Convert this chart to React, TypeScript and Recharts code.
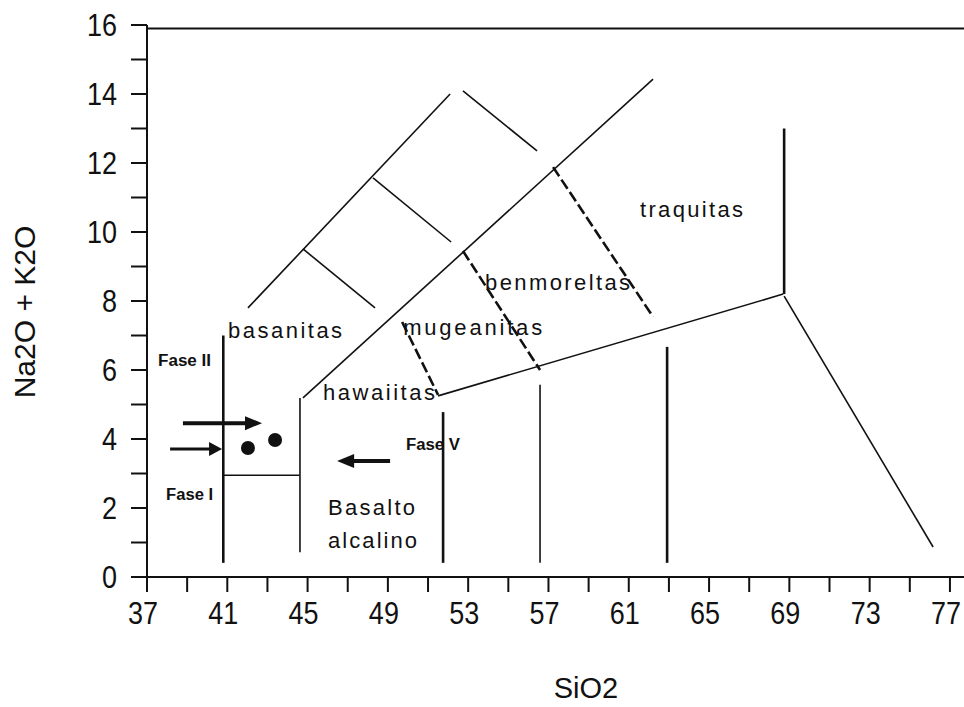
import { ScatterChart, Scatter, XAxis, YAxis, ReferenceLine, Label } from "recharts";

const FONT = '"Liberation Sans", Arial, sans-serif';

// axis ticks
const xTicks = [37, 39, 41, 43, 45, 47, 49, 51, 53, 55, 57, 59, 61, 63, 65, 67, 69, 71, 73, 75, 77];
const xLabelled = [37, 41, 45, 49, 53, 57, 61, 65, 69, 73, 77];
const yTicks = [0, 1, 2, 3, 4, 5, 6, 7, 8, 9, 10, 11, 12, 13, 14, 15, 16];
const yLabelled = [0, 2, 4, 6, 8, 10, 12, 14, 16];

// field boundaries (SiO2, Na2O+K2O)
const thinEdges = [
  { x1: 40.8, y1: 2.95, x2: 44.6, y2: 2.95 },
  { x1: 44.62, y1: 0.72, x2: 44.62, y2: 5.19 },
  { x1: 44.77, y1: 5.19, x2: 62.21, y2: 14.43 },
  { x1: 42.03, y1: 7.8, x2: 52.1, y2: 14.0 },
  { x1: 52.74, y1: 14.09, x2: 56.43, y2: 12.35 },
  { x1: 48.26, y1: 11.57, x2: 52.15, y2: 9.71 },
  { x1: 44.77, y1: 9.51, x2: 48.36, y2: 7.8 },
  { x1: 51.5, y1: 5.25, x2: 68.69, y2: 8.2 },
  { x1: 68.74, y1: 8.14, x2: 76.16, y2: 0.87 },
  { x1: 56.58, y1: 5.57, x2: 56.58, y2: 0.41 },
];
const heavyEdges = [
  { x1: 40.8, y1: 0.41, x2: 40.8, y2: 7.0 },
  { x1: 68.74, y1: 13.0, x2: 68.74, y2: 8.2 },
  { x1: 51.75, y1: 4.78, x2: 51.75, y2: 0.41 },
  { x1: 62.91, y1: 6.67, x2: 62.91, y2: 0.41 },
];
const dashedEdges = [
  { x1: 52.74, y1: 9.45, x2: 56.58, y2: 6.0 },
  { x1: 57.23, y1: 11.88, x2: 62.21, y2: 7.54 },
  { x1: 49.71, y1: 7.39, x2: 51.5, y2: 5.28 },
];

const samples = [
  { x: 42.03, y: 3.74 },
  { x: 43.38, y: 3.97 },
];

// arrows: tail x0 -> tip x1 at height y
const arrows = [
  { id: "a1", x0: 38.79, x1: 42.73, y: 4.46 },
  { id: "a2", x0: 38.15, x1: 40.74, y: 3.71 },
  { id: "a3", x0: 49.11, x1: 46.47, y: 3.36 },
];

// field names (left end, baseline)
const fields = [
  { text: "basanitas", x: 41.04, y: 6.93 },
  { text: "mugeanitas", x: 49.76, y: 7.01 },
  { text: "benmoreltas", x: 53.84, y: 8.32 },
  { text: "traquitas", x: 61.56, y: 10.43 },
  { text: "hawaiitas", x: 45.77, y: 5.13 },
  { text: "Basalto", x: 46.02, y: 1.8 },
  { text: "alcalino", x: 46.02, y: 0.84 },
];
const phases = [
  { text: "Fase II", x: 37.55, y: 6.12 },
  { text: "Fase I", x: 37.95, y: 2.23 },
  { text: "Fase V", x: 49.9, y: 3.68 },
];

const textWidth: Record<string, number> = {
  basanitas: 114,
  mugeanitas: 139,
  benmoreltas: 145,
  traquitas: 103,
  hawaiitas: 112,
  Basalto: 87,
  alcalino: 89,
  "Fase II": 53,
  "Fase I": 47,
  "Fase V": 54,
};
const headStyle: Record<string, { len: number; half: number; w: number }> = {
  a1: { len: 17, half: 7, w: 4 },
  a2: { len: 13, half: 7, w: 3 },
  a3: { len: 17, half: 7, w: 4 },
};

const XTick = (props: any) => {
  const { x, y, payload } = props;
  if (!xLabelled.includes(payload.value)) return <g />;
  return (
    <g transform={`translate(${x - 4},${y})`}>
      <text transform="scale(1,1.18)" y={27} textAnchor="middle" fontSize={27} fontFamily={FONT} fill="#111">
        {payload.value}
      </text>
    </g>
  );
};

const YTick = (props: any) => {
  const { x, y, payload } = props;
  if (!yLabelled.includes(payload.value)) return <g />;
  return (
    <g transform={`translate(${x},${y})`}>
      <text transform="scale(1,1.18)" y={9.5} textAnchor="end" fontSize={27} fontFamily={FONT} fill="#111">
        {payload.value}
      </text>
    </g>
  );
};

const FieldText = (props: any) => {
  const { cx, cy, payload } = props;
  return (
    <text x={cx} y={cy} fontSize={22} fontFamily={FONT} fill="#111" textLength={textWidth[payload.text]} lengthAdjust="spacing">
      {payload.text}
    </text>
  );
};

const PhaseText = (props: any) => {
  const { cx, cy, payload } = props;
  return (
    <text x={cx} y={cy} fontSize={16} fontWeight="bold" fontFamily={FONT} fill="#111" textLength={textWidth[payload.text]} lengthAdjust="spacingAndGlyphs">
      {payload.text}
    </text>
  );
};

const Head = (props: any) => {
  const { cx, cy, payload } = props;
  const s = headStyle[payload.id];
  const d = payload.x1 > payload.x0 ? 1 : -1;
  const pts = `${cx},${cy} ${cx - d * s.len},${cy - s.half} ${cx - d * s.len},${cy + s.half}`;
  return <polygon points={pts} fill="#111" />;
};

const Dot = (props: any) => <circle cx={props.cx} cy={props.cy} r={7} fill="#111" />;

const seg = (e: { x1: number; y1: number; x2: number; y2: number }) => [
  { x: e.x1, y: e.y1 },
  { x: e.x2, y: e.y2 },
];

export default function App() {
  const heads = arrows.map((a) => ({ ...a, x: a.x1 }));
  return (
    <div style={{ position: "absolute", left: 0, top: 0, width: 964, height: 707, overflow: "hidden", background: "#fff" }}>
      <ScatterChart width={964} height={707} margin={{ top: 25, right: 0, bottom: 0, left: 0 }}>
        <XAxis
          type="number"
          dataKey="x"
          domain={[37, 77.7]}
          ticks={xTicks}
          interval={0}
          allowDataOverflow
          height={130}
          tickSize={15}
          tickMargin={0}
          tick={<XTick />}
          stroke="#111"
          strokeWidth={2}
          tickLine={{ stroke: "#111", strokeWidth: 2 }}
        >
          <Label
            content={() => (
              <text x={586} y={698} textAnchor="middle" fontSize={29} fontFamily={FONT} fill="#111">
                SiO2
              </text>
            )}
          />
        </XAxis>
        <YAxis
          type="number"
          dataKey="y"
          domain={[0, 16]}
          ticks={yTicks}
          interval={0}
          allowDataOverflow
          width={147}
          tickSize={16}
          tickMargin={14}
          tick={<YTick />}
          stroke="#111"
          strokeWidth={2}
          tickLine={{ stroke: "#111", strokeWidth: 2 }}
        >
          <Label
            content={() => (
              <text transform="translate(35,312) rotate(-90)" textAnchor="middle" fontSize={30} fontFamily={FONT} fill="#111">
                Na2O + K2O
              </text>
            )}
          />
        </YAxis>

        <ReferenceLine y={15.9} stroke="#111" strokeWidth={2} ifOverflow="visible" />

        {thinEdges.map((e, i) => (
          <ReferenceLine key={"t" + i} segment={seg(e)} stroke="#111" strokeWidth={1.6} ifOverflow="visible" />
        ))}
        {heavyEdges.map((e, i) => (
          <ReferenceLine key={"h" + i} segment={seg(e)} stroke="#111" strokeWidth={2.6} ifOverflow="visible" />
        ))}
        {dashedEdges.map((e, i) => (
          <ReferenceLine
            key={"d" + i}
            segment={seg(e)}
            stroke="#111"
            strokeWidth={2.6}
            strokeDasharray="11 4"
            ifOverflow="visible"
          />
        ))}
        {arrows.map((a) => (
          <ReferenceLine
            key={a.id}
            segment={[
              { x: a.x0, y: a.y },
              { x: a.x1 - (a.x1 > a.x0 ? 0.5 : -0.5), y: a.y },
            ]}
            stroke="#111"
            strokeWidth={headStyle[a.id].w}
            ifOverflow="visible"
          />
        ))}

        <Scatter data={heads} shape={<Head />} isAnimationActive={false} />
        <Scatter data={samples} shape={<Dot />} isAnimationActive={false} />
        <Scatter data={fields} shape={<FieldText />} isAnimationActive={false} />
        <Scatter data={phases} shape={<PhaseText />} isAnimationActive={false} />
      </ScatterChart>
    </div>
  );
}
